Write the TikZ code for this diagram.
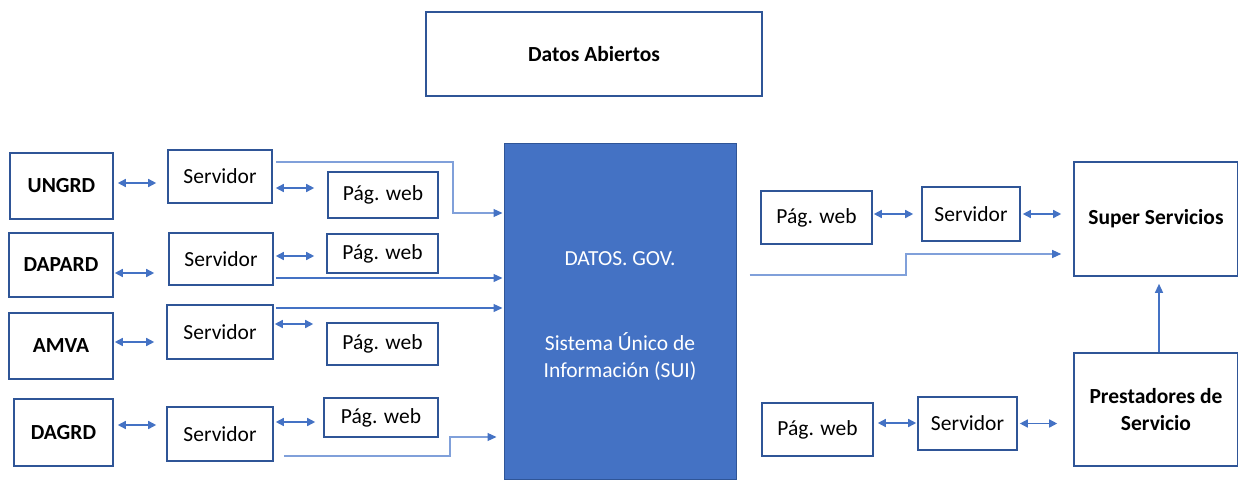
\documentclass[tikz,border=0pt]{standalone}
\usepackage{fontspec}
\setmainfont{Carlito}
\usetikzlibrary{arrows.meta}
\definecolor{bord}{RGB}{47,85,151}
\definecolor{acc}{RGB}{68,114,196}
\definecolor{lite}{RGB}{128,160,218}
\tikzset{
  box/.style={draw=bord, line width=1.6pt, fill=white, inner sep=0pt, font=\fontsize{21.5}{27}\selectfont},
  bbox/.style={box, font=\fontsize{21.5}{27}\selectfont\bfseries},
  biarr/.style={draw=acc, line width=1.5pt, {Triangle[length=8pt,width=8pt]}-{Triangle[length=8pt,width=8pt]}},
  onearr/.style={draw=acc, line width=1.3pt, -{Triangle[length=9pt,width=8pt]}},
  litearr/.style={draw=lite, line width=1.2pt, arrows={-{Triangle[length=9pt,width=8pt,color=acc]}}},
}
\begin{document}
\begin{tikzpicture}[x=1pt,y=-1pt]
\useasboundingbox (0,0) rectangle (1238,479);
% top
\node[bbox, minimum width=336pt, minimum height=84pt] (da) at (594,54) {Datos Abiertos};
% left column
\node[bbox, minimum width=103pt, minimum height=66pt] (u) at (61.5,186) {UNGRD};
\node[bbox, minimum width=104pt, minimum height=64pt] (d) at (61,265) {DAPARD};
\node[bbox, minimum width=104pt, minimum height=66pt] (a) at (61,346) {AMVA};
\node[bbox, minimum width=99pt, minimum height=67pt] (g) at (63.5,432.5) {DAGRD};
% servers
\node[box, minimum width=104pt, minimum height=53pt] (s1) at (220,176.5) {Servidor};
\node[box, minimum width=104pt, minimum height=52pt] (s2) at (221,259) {Servidor};
\node[box, minimum width=106pt, minimum height=54pt] (s3) at (220,332) {Servidor};
\node[box, minimum width=106pt, minimum height=54pt] (s4) at (220,434) {Servidor};
% web pages
\node[box, minimum width=110pt, minimum height=46pt] (p1) at (383,195) {Pág. web};
\node[box, minimum width=111pt, minimum height=39pt] (p2) at (382.5,253.5) {Pág. web};
\node[box, minimum width=111pt, minimum height=42pt] (p3) at (382.5,344) {Pág. web};
\node[box, minimum width=114pt, minimum height=39pt] (p4) at (381,417.5) {Pág. web};
% central
\node[draw=bord, line width=1pt, fill=acc, minimum width=232pt, minimum height=336pt, inner sep=0pt] (dg) at (620,311) {};
\node[text=white, font=\fontsize{21.5}{27}\selectfont, inner sep=0pt] (dgt) at (620,259) {DATOS. GOV.};
\node[text=white, font=\fontsize{21.5}{27}\selectfont, align=center, inner sep=0pt] (dgs) at (620,357) {Sistema Único de\\Información (SUI)};
% right side
\node[box, minimum width=111pt, minimum height=53pt] (rp1) at (816.5,217.5) {Pág. web};
\node[box, minimum width=98pt, minimum height=54pt] (rs1) at (971,214) {Servidor};
\node[bbox, minimum width=164pt, minimum height=114pt] (ss) at (1156,219) {Super Servicios};
\node[box, minimum width=111pt, minimum height=53pt] (rp2) at (817.5,429.5) {Pág. web};
\node[box, minimum width=99pt, minimum height=53pt] (rs2) at (967.5,423.5) {Servidor};
\node[bbox, minimum width=164pt, minimum height=113pt, align=center] (pr) at (1156,409.5) {Prestadores de\\Servicio};
% left arrows
\draw[biarr, shorten <=4pt, shorten >=11pt] ([yshift=3pt]u.east) -- ([yshift=3pt]u.east -| s1.west);
\draw[biarr, shorten <=1pt, shorten >=14pt] ([yshift=-8pt]d.east) -- ([yshift=-8pt]d.east -| s2.west);
\draw[biarr, shorten <=1pt, shorten >=12pt] ([yshift=4pt]a.east) -- ([yshift=4pt]a.east -| s3.west);
\draw[biarr, shorten <=4pt, shorten >=10pt] ([yshift=7.5pt]g.east) -- ([yshift=7.5pt]g.east -| s4.west);
% server to page arrows
\draw[biarr, shorten <=3pt, shorten >=13pt] ([yshift=-11.5pt]s1.east) -- ([yshift=-11.5pt]s1.east -| p1.west);
\draw[biarr, shorten <=2pt, shorten >=12pt] ([yshift=3pt]s2.east) -- ([yshift=3pt]s2.east -| p2.west);
\draw[biarr, shorten <=1pt, shorten >=13pt] ([yshift=8pt]s3.east) -- ([yshift=8pt]s3.east -| p3.west);
\draw[biarr, shorten <=2pt, shorten >=8pt] ([yshift=12pt]s4.east) -- ([yshift=12pt]s4.east -| p4.west);
% lines to central
\coordinate (k1) at (453,213);
\coordinate (k4) at (450,437);
\coordinate (k5) at (906,254);
\draw[litearr, shorten >=1pt] ([xshift=3pt,yshift=14.5pt]s1.east) -| (k1) -- (k1 -| dg.west);
\draw[onearr, shorten <=2pt, shorten >=1pt] ([yshift=-19pt]s2.east) -- ([yshift=-19pt]s2.east -| dg.west);
\draw[onearr, shorten <=2pt, shorten >=1pt] ([yshift=24pt]s3.east) -- ([yshift=24pt]s3.east -| dg.west);
\draw[litearr, shorten >=7pt] ([xshift=10pt,yshift=-22pt]s4.east) -| (k4) -- (k4 -| dg.west);
\draw[litearr, shorten >=12pt] ([xshift=13pt,yshift=36pt]dg.east) -| (k5) -- (k5 -| ss.west);
% right arrows
\draw[biarr, shorten <=1pt, shorten >=8pt] ([yshift=3.5pt]rp1.east) -- ([yshift=3.5pt]rp1.east -| rs1.west);
\draw[biarr, shorten <=2pt, shorten >=12pt] (rs1.east) -- (rs1.east -| ss.west);
\draw[biarr, shorten <=4pt, shorten >=1pt] ([yshift=6.5pt]rp2.east) -- ([yshift=6.5pt]rp2.east -| rs2.west);
\draw[biarr, shorten <=2pt, shorten >=16pt] (rs2.east) -- (rs2.east -| pr.west);
\draw[onearr, shorten >=7pt] ([xshift=3pt]pr.north) -- ([xshift=3pt]ss.south);
\end{tikzpicture}
\end{document}
